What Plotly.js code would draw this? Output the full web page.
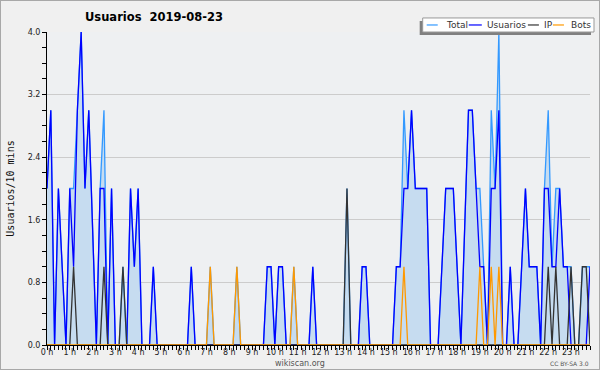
<!DOCTYPE html>
<html><head><meta charset="utf-8">
<script src="https://cdn.plot.ly/plotly-3.0.1.min.js"></script>
<style>
html,body{margin:0;padding:0;background:#f0f0f0;}
#chart{width:598px;height:368px;border:1px solid #a8a8a8;}
</style>
</head><body><div id="chart"></div>
<script>
// 10-minute slots, 0 h .. 23 h 50
const hourLabels = ["0 h","1 h","2 h","3 h","4 h","5 h","6 h","7 h","8 h","9 h","10 h","11 h",
  "12 h","13 h","14 h","15 h","16 h","17 h","18 h","19 h","20 h","21 h","22 h","23 h"];
const seriesNames = ["Total","Usuarios","IP","Bots"];

const total = [
  2,3,0,2,1,0,2,2,3,4,2,3,
  1.5,0,2,3,0,2,0,0,1,0,2,1,
  2,0,0,0,1,0,0,0,0,0,0,0,
  0,0,1,0,0,0,0,1,0,0,0,0,
  0,0,1,0,0,0,0,0,0,0,1,1,
  0,1,1,0,0,1,0,0,0,0,1,0,
  0,0,0,0,0,0,0,2,0,0,0,1,
  1,0,0,0,0,0,0,0,1,1,3,2,
  3,2,2,2,2,0,0,0,1,2,2,2,
  1,0,1.5,3,3,2,2,1,0,3,2,4,
  0,0,1,0,0,1,2,1,1,1,0,2,
  3,1,2,2,1,1,1,0,0,1,1,1];
const usuarios = [
  2,3,0,2,1,0,2,1,3,4,2,3,
  1.5,0,2,2,0,2,0,0,0,0,2,1,
  2,0,0,0,1,0,0,0,0,0,0,0,
  0,0,1,0,0,0,0,0,0,0,0,0,
  0,0,0,0,0,0,0,0,0,0,1,1,
  0,1,1,0,0,0,0,0,0,0,1,0,
  0,0,0,0,0,0,0,0,0,0,0,1,
  1,0,0,0,0,0,0,0,1,1,2,2,
  3,2,2,2,2,0,0,0,1,2,2,2,
  1,0,1.5,3,3,2,1,1,0,2,2,3,
  0,0,1,0,0,1,2,1,1,1,0,2,
  2,1,1,2,1,1,0,0,0,0,0,1];
const ip = [
  0,0,0,0,0,0,0,1,0,0,0,0,
  0,0,0,1,0,0,0,0,1,0,0,0,
  0,0,0,0,0,0,0,0,0,0,0,0,
  0,0,0,0,0,0,0,0,0,0,0,0,
  0,0,0,0,0,0,0,0,0,0,0,0,
  0,0,0,0,0,0,0,0,0,0,0,0,
  0,0,0,0,0,0,0,2,0,0,0,0,
  0,0,0,0,0,0,0,0,0,0,0,0,
  0,0,0,0,0,0,0,0,0,0,0,0,
  0,0,0,0,0,0,0,0,0,0,0,0,
  0,0,0,0,0,0,0,0,0,0,0,0,
  1,0,1,0,0,0,1,0,0,1,1,0];
const bots = [
  0,0,0,0,0,0,0,0,0,0,0,0,
  0,0,0,0,0,0,0,0,0,0,0,0,
  0,0,0,0,0,0,0,0,0,0,0,0,
  0,0,0,0,0,0,0,1,0,0,0,0,
  0,0,1,0,0,0,0,0,0,0,0,0,
  0,0,0,0,0,1,0,0,0,0,0,0,
  0,0,0,0,0,0,0,0,0,0,0,0,
  0,0,0,0,0,0,0,0,0,0,1,0,
  0,0,0,0,0,0,0,0,0,0,0,0,
  0,0,0,0,0,0,1,0,0,1,0,1,
  0,0,0,0,0,0,0,0,0,0,0,0,
  0,0,0,0,0,0,0,0,0,0,0,0];
const yTicks = [0,0.8,1.6,2.4,3.2,4.0];

const colors = {Total:"#3399ff", Usuarios:"#0000ff", IP:"#333333", Bots:"#ff9900"};
const slots = total.map((_, i) => i);
const hourTickVals = hourLabels.map((_, h) => h * 6);

const traces = [
  {x:slots, y:total, name:"Total", type:"scatter", mode:"lines", fill:"tozeroy",
   fillcolor:"#c6dcf0", line:{color:colors.Total, width:1.3}},
  {x:slots, y:usuarios, name:"Usuarios", type:"scatter", mode:"lines", line:{color:colors.Usuarios, width:1.3}},
  {x:slots, y:ip, name:"IP", type:"scatter", mode:"lines", line:{color:colors.IP, width:1.3}},
  {x:slots, y:bots, name:"Bots", type:"scatter", mode:"lines", line:{color:colors.Bots, width:1.3}}
];

// page-pixel helpers for decorations (plot area 47..589 x 32..344)
const L = 47, R = 589, T = 32, B = 344;
const px = v => (v - L) / (R - L);
const py = v => (B - v) / (B - T);

const shapes = [
  {type:"rect", xref:"paper", yref:"paper", x0:px(419), x1:px(590), y0:py(35), y1:py(21),
   fillcolor:"#808080", line:{width:0}, layer:"above"},
  {type:"rect", xref:"paper", yref:"paper", x0:px(422), x1:px(593), y0:py(32), y1:py(18),
   fillcolor:"#ffffff", line:{color:"#999999", width:1}, layer:"above"}
];
const legendPos = [[426,437,443],[468,481,484],[527,538,541],[552,563,568]];
const annotations = [];
seriesNames.forEach((n, k) => {
  const p = legendPos[k];
  shapes.push({type:"line", xref:"paper", yref:"paper", x0:px(p[0]), x1:px(p[1]), y0:py(25), y1:py(25),
    line:{color:colors[n], width:1.2}, layer:"above"});
  annotations.push({text:n, xref:"paper", yref:"paper", x:px(p[2]), y:py(25), xanchor:"left", yanchor:"middle",
    showarrow:false, font:{family:"DejaVu Sans", size:9, color:"#333"}});
});
annotations.push({text:"wikiscan.org", xref:"paper", yref:"paper", x:px(300), y:py(362.5), xanchor:"center", yanchor:"middle",
  showarrow:false, font:{family:"DejaVu Sans", size:8, color:"#555"}});
annotations.push({text:"CC BY-SA 3.0", xref:"paper", yref:"paper", x:px(590), y:py(362.5), xanchor:"right", yanchor:"middle",
  showarrow:false, font:{family:"DejaVu Sans", size:6, color:"#555"}});

const layout = {
  width:598, height:368,
  margin:{l:46, r:9, t:31, b:24, pad:0},
  paper_bgcolor:"#f0f0f0", plot_bgcolor:"#eef0f2",
  showlegend:false,
  title:{text:"Usuarios\u00a0\u00a02019-08-23", xref:"container", yref:"container",
    x:84/598, xanchor:"left", y:1-16/368, yanchor:"middle",
    font:{family:"DejaVu Sans", size:11.5, color:"#000", weight:"bold"}},
  xaxis:{range:[0,143], tickvals:hourTickVals, ticktext:hourLabels,
    showgrid:false, zeroline:false, showline:true, linecolor:"#000", linewidth:1,
    ticks:"outside", ticklen:4, tickcolor:"#000", tickwidth:1,
    minor:{dtick:1, tick0:0, ticks:"outside", ticklen:4, tickcolor:"#000", tickwidth:1, showgrid:false},
    tickfont:{family:"DejaVu Sans", size:8, color:"#222"}, ticklabelstandoff:-5, fixedrange:true},
  yaxis:{range:[0,4], tickvals:yTicks, tickformat:".1f",
    showgrid:true, gridcolor:"#cccccc", gridwidth:1, zeroline:false,
    showline:true, linecolor:"#000", linewidth:1,
    ticks:"outside", ticklen:4, tickcolor:"#000", tickwidth:1,
    minor:{dtick:0.2, tick0:0, ticks:"outside", ticklen:4, tickcolor:"#000", tickwidth:1, showgrid:false},
    tickfont:{family:"DejaVu Sans", size:8, color:"#222"},
    title:{text:"Usuarios/10 mins", font:{family:"DejaVu Sans Mono", size:10, color:"#111"}, standoff:11},
    fixedrange:true},
  shapes:shapes, annotations:annotations
};
Plotly.newPlot("chart", traces, layout, {staticPlot:true, displayModeBar:false});
</script>
</body></html>
